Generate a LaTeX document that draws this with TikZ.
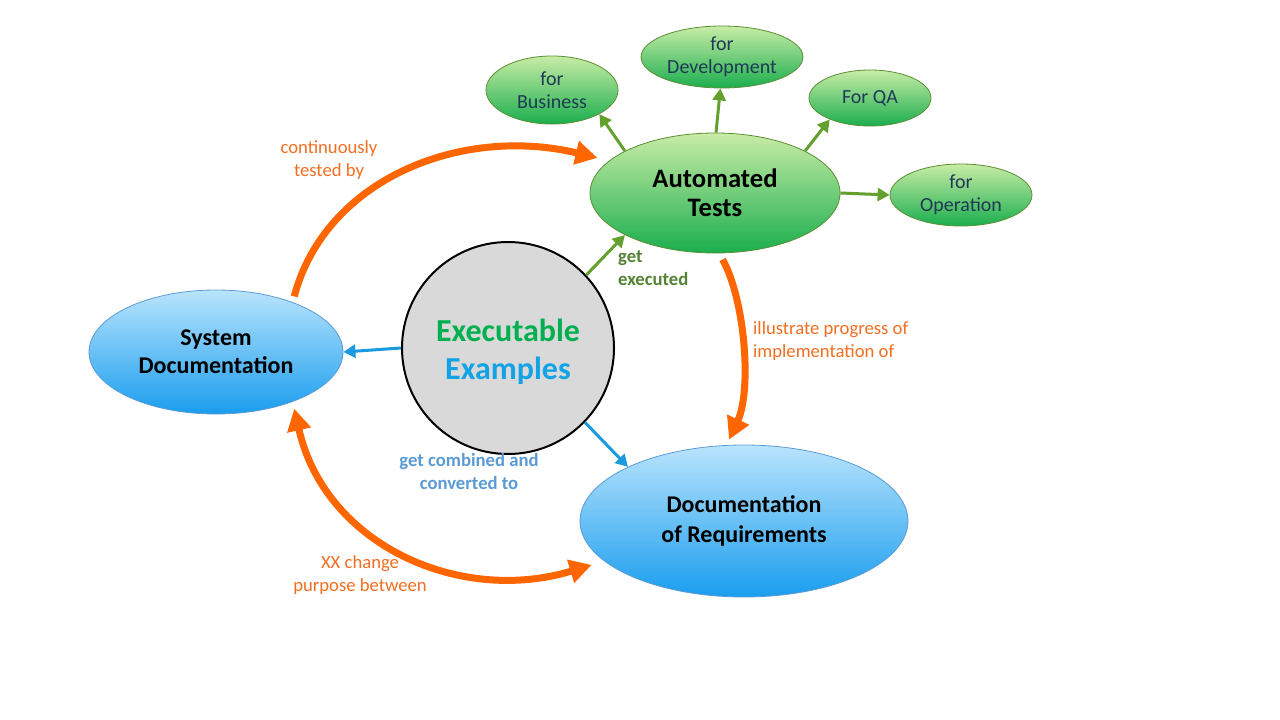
\documentclass[tikz,border=0pt]{standalone}
\usepackage{fontspec}
\setmainfont{Carlito}
\usetikzlibrary{shapes.geometric,arrows.meta}
\definecolor{gtop}{HTML}{C8ECA6}
\definecolor{gbot}{HTML}{1BAE4E}
\definecolor{gborder}{HTML}{5A8F33}
\definecolor{btop}{HTML}{B9E4FD}
\definecolor{bbot}{HTML}{1A9DEE}
\definecolor{bborder}{HTML}{5B9BD5}
\definecolor{garr}{HTML}{64A02D}
\definecolor{barr}{HTML}{1A9BE0}
\definecolor{oarr}{HTML}{FF6600}
\definecolor{otext}{HTML}{F26F22}
\definecolor{gtext}{HTML}{548235}
\definecolor{btext}{HTML}{5B9BD5}
\definecolor{exfill}{HTML}{D9D9D9}
\definecolor{exgreen}{HTML}{00B050}
\definecolor{exblue}{HTML}{12A3E6}
\definecolor{navy}{HTML}{1F3A56}
\tikzset{
  gnode/.style={ellipse, inner sep=0pt, draw=gborder, line width=0.8pt, top color=gtop, bottom color=gbot, align=center, text=navy, font=\fontsize{20}{23}\selectfont},
  bnode/.style={ellipse, inner sep=0pt, draw=bborder, line width=0.8pt, top color=btop, bottom color=bbot, align=center, text=black, font=\bfseries\fontsize{24}{28}\selectfont},
  garrow/.style={draw=garr, line width=3pt, -{Triangle[length=12pt,width=13pt]}},
  barrow/.style={draw=barr, line width=3pt, -{Triangle[length=12pt,width=13pt]}},
  oarrow/.style={draw=oarr, line width=7pt, -{Triangle[length=22pt,width=23pt]}},
  olabel/.style={text=otext, align=center, inner sep=0pt, font=\fontsize{18.67}{23}\selectfont},
  blabel/.style={align=center, inner sep=0pt, font=\bfseries\fontsize{18.67}{23}\selectfont},
}
\begin{document}
\begin{tikzpicture}[x=1pt,y=-1pt]
\useasboundingbox (0,0) rectangle (1280,720);
\fill[white] (0,0) rectangle (1280,720);

% nodes
\node[gnode, minimum width=250pt, minimum height=120pt, text=black, font=\bfseries\fontsize{26.67}{29}\selectfont] (auto) at (715,193) {Automated\\Tests};
\node[gnode, minimum width=132pt, minimum height=68pt] (bus) at (552,90) {for\\Business};
\node[gnode, minimum width=162pt, minimum height=62pt] (dev) at (722,57) {for\\Development};
\node[gnode, minimum width=122pt, minimum height=56pt] (qa) at (870,98) {For QA};
\node[gnode, minimum width=142pt, minimum height=62pt] (op) at (961,195) {for\\Operation};
\node[bnode, minimum width=254pt, minimum height=124pt] (sys) at (216,352) {System\\Documentation};
\node[bnode, minimum width=328pt, minimum height=152pt, font=\bfseries\fontsize{24}{30}\selectfont] (req) at (744,521) {Documentation\\of Requirements};
\node[circle, draw=black, line width=2pt, fill=exfill, minimum size=212pt, inner sep=0pt] (ex) at (508,348) {};
\node[align=center, inner sep=0pt, font=\bfseries\fontsize{32}{38}\selectfont] (extext) at (508,352) {\textcolor{exgreen}{Executable}\\\textcolor{exblue}{Examples}};

% green connectors
\draw[garrow] (auto.155) -- (bus.333);
\draw[garrow] (auto.89) -- (dev.267);
\draw[garrow] (auto.25) -- (qa.208);
\draw[garrow] (auto.0) -- (op.180);
\draw[garrow] (ex.43) -- (auto.205);

% blue connectors
\draw[barrow] (ex.180) -- (sys.0);
\draw[barrow] (ex.316) -- (req.155);

% orange connectors
\draw[oarrow, shorten <=6pt, shorten >=12pt] (sys.33) .. controls (325,180) and (460,125) .. (auto.163);
\draw[oarrow, shorten <=7pt, shorten >=6pt] (auto.274) .. controls (745,300) and (752,390) .. (req.103);
\draw[oarrow, {Triangle[length=22pt,width=23pt]}-{Triangle[length=22pt,width=23pt]}, shorten <=7pt, shorten >=13pt] (sys.327) .. controls (325,545) and (460,605) .. (req.196);

% labels
\node[olabel] (l1) at (329,160) {continuously\\tested by};
\node[blabel, text=gtext, align=left, anchor=west] (l2) at (618,268) {get\\executed};
\node[olabel, align=left, anchor=west] (l3) at (753,341) {illustrate progress of\\implementation of};
\node[blabel, text=btext] (l4) at (469,472) {get combined and\\converted to};
\node[olabel] (l5) at (360,575) {XX change\\purpose between};
\end{tikzpicture}
\end{document}
